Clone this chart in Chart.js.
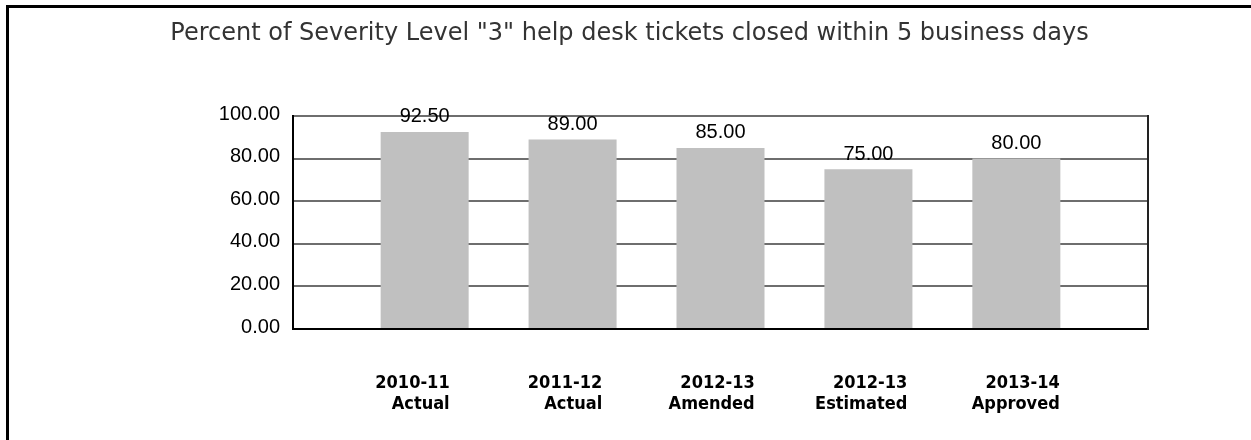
<!DOCTYPE html>
<html>
<head>
<meta charset="utf-8">
<title>Severity 3 tickets</title>
<script src="https://cdn.jsdelivr.net/npm/chart.js@4"></script>
<style>
  html, body { margin: 0; padding: 0; background: #fff; overflow: hidden; }
  /* heavy frame along the left and top of the page */
  #frame { position: absolute; left: 6px; top: 5px; right: -20px; bottom: -20px;
           border-left: 3px solid #000; border-top: 3px solid #000; }
  #wrap { position: absolute; left: 0; top: 0; width: 1251px; height: 440px; }
</style>
</head>
<body>
<div id="frame"></div>
<div id="wrap"><canvas id="chartCanvas" width="1251" height="440"></canvas></div>
<script>
// fiscal years and budget stage for each bar
const years = ['2010-11', '2011-12', '2012-13', '2012-13', '2013-14'];
const stages = ['Actual', 'Actual', 'Amended', 'Estimated', 'Approved'];
// percent of severity 3 tickets closed within 5 business days
const percentClosed = [92.5, 89.0, 85.0, 75.0, 80.0];
const yTicks = [0, 20, 40, 60, 80, 100];

// value printed above every bar
const barValues = {
    id: 'barValues',
    afterDatasetsDraw(chart) {
        const ctx = chart.ctx;
        ctx.save();
        ctx.font = '20px "Liberation Sans", Arial, sans-serif';
        ctx.fillStyle = '#000';
        ctx.textAlign = 'center';
        ctx.textBaseline = 'alphabetic';
        chart.getDatasetMeta(0).data.forEach(function (bar, i) {
            ctx.fillText(percentClosed[i].toFixed(2), bar.x, bar.y - 9.5);
        });
        ctx.restore();
    }
};

// two-line category labels, right aligned under the bars
const categoryLabels = {
    id: 'categoryLabels',
    afterDraw(chart) {
        const ctx = chart.ctx;
        const xs = chart.scales.x;
        const bottom = chart.chartArea.bottom;
        ctx.save();
        ctx.font = 'bold 18px "DejaVu Sans Condensed", "DejaVu Sans", sans-serif';
        ctx.fillStyle = '#000';
        ctx.textAlign = 'right';
        ctx.textBaseline = 'alphabetic';
        years.forEach(function (yr, i) {
            const right = xs.getPixelForValue(i) + 25 + 4.6 * i;
            ctx.fillText(yr, right, bottom + 58.5);
            ctx.fillText(stages[i], right, bottom + 80);
        });
        ctx.restore();
    }
};

const ctx = document.getElementById('chartCanvas').getContext('2d');
new Chart(ctx, {
    type: 'bar',
    data: {
        datasets: [{
            data: percentClosed.map(function (v, i) { return { x: i, y: v }; }),
            backgroundColor: '#c0c0c0',
            borderWidth: 0,
            barPercentage: 0.595,
            categoryPercentage: 1
        }]
    },
    options: {
        responsive: false,
        animation: false,
        layout: { padding: { left: 8 } },
        scales: {
            x: {
                type: 'linear',
                offset: false,
                min: -0.89,
                max: 4.89,
                // one tick per bar so the bar width is taken from the bar spacing
                afterBuildTicks: function (s) { s.ticks = years.map(function (y, i) { return { value: i }; }); },
                ticks: { display: false },
                grid: { display: false, offset: false },
                border: { color: '#000', width: 2 },
                afterFit: function (s) { s.height = 111; }
            },
            y: {
                min: 0,
                max: 100,
                afterBuildTicks: function (s) { s.ticks = yTicks.map(function (v) { return { value: v }; }); },
                ticks: {
                    callback: function (v) { return Number(v).toFixed(2); },
                    font: { family: '"Liberation Sans", Arial, sans-serif', size: 20 },
                    color: '#000',
                    padding: 13,
                    labelOffset: -2
                },
                grid: { color: '#6e6e6e', lineWidth: 2, drawTicks: false },
                border: { color: '#000', width: 2 },
                afterFit: function (s) { s.width = 285; }
            },
            y2: {
                position: 'right',
                ticks: { display: false },
                grid: { display: false },
                border: { color: '#222', width: 2 },
                afterFit: function (s) { s.width = 103; }
            }
        },
        plugins: {
            legend: { display: false },
            tooltip: { enabled: false },
            title: {
                display: true,
                text: 'Percent of Severity Level "3" help desk tickets closed within 5 business days',
                color: '#333',
                font: { family: '"DejaVu Sans", sans-serif', size: 24, weight: 'normal', lineHeight: 1.2 },
                padding: { top: 19, bottom: 68.2 }
            }
        }
    },
    plugins: [barValues, categoryLabels]
});
</script>
</body>
</html>
